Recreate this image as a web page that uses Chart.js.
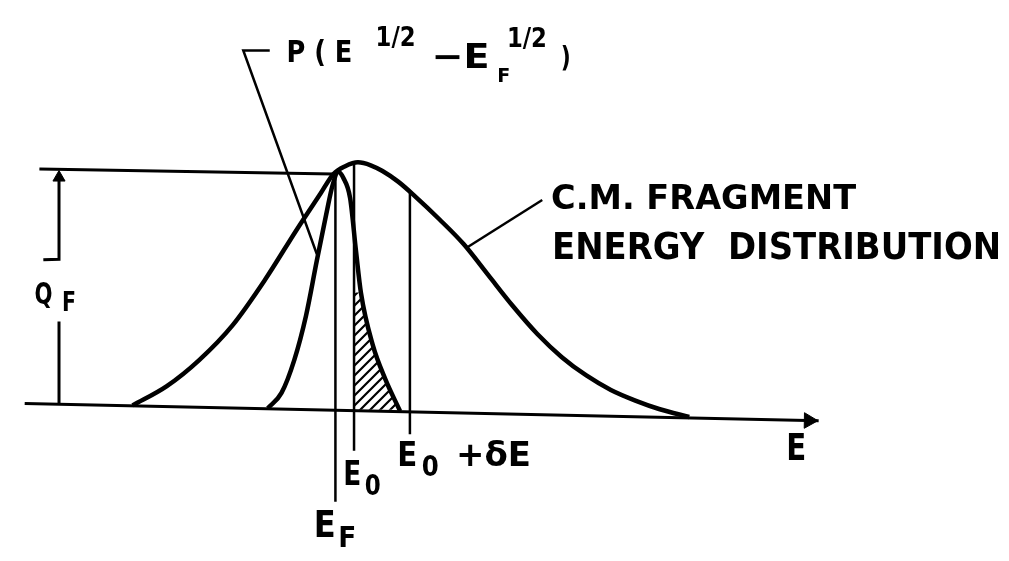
<!DOCTYPE html>
<html>
<head>
    <title>C.M. Fragment Energy Distribution</title>
    <script src="https://cdn.jsdelivr.net/npm/chart.js"></script>
    <style>
        body {
            margin: 0;
            background: #ffffff;
        }
        canvas {
            display: block;
        }
    </style>
</head>
<body>
    <canvas id="fig" width="1009" height="561"></canvas>

    <script>
        // energy axis runs left to right, intensity is 1 at the top of the broad curve
        const broadE = [12.5, 16.0, 19.3, 22.7, 26.0, 29.3, 31.7, 33.0, 34.2, 35.5, 36.8, 38.0, 39.6,
                        41.3, 43.8, 46.3, 48.8, 51.3, 53.8, 56.3, 58.8, 61.3, 63.8, 66.3, 69.3];
        const broadN = [0.0, 0.08, 0.188, 0.332, 0.52, 0.732, 0.88, 0.96, 0.992, 1.008, 0.996, 0.972, 0.928,
                        0.868, 0.772, 0.668, 0.54, 0.412, 0.296, 0.2, 0.124, 0.064, 0.02, -0.016, -0.048];

        // P(E^1/2 - EF^1/2), the narrow peak
        const narrowE = [26.3, 27.7, 29.0, 30.2, 31.3, 32.3, 32.9, 33.5, 34.0, 34.7, 35.3, 35.8, 37.0, 38.3, 39.8];
        const narrowP = [-0.012, 0.052, 0.188, 0.372, 0.6, 0.8, 0.912, 0.968, 0.944, 0.86, 0.64, 0.468, 0.252, 0.108, -0.024];

        // shaded tail above E0
        const hatchE = [35.1, 35.8, 37.0, 38.3, 39.8];
        const hatchP = [0.468, 0.468, 0.252, 0.108, -0.024];

        const EF = 33.2, E0 = 35.1, E0dE = 40.8;

        const axisE = [1.5, 82.5];
        const axisY = [0.008, -0.064];

        const zip = (xs, ys) => xs.map((x, i) => ({ x: x, y: ys[i] }));
        const seg = pts => pts.map(p => ({ x: p[0], y: p[1] }));

        // annotation text, placed in data units
        const notes = [
            { t: 'P ( E', x: 28.2, y: 1.424, s: 30, w: 66 },
            { t: '1/2', x: 37.3, y: 1.492, s: 26, w: 40 },
            { t: '\u2212E', x: 43.0, y: 1.40, s: 34, w: 58 },
            { t: 'F', x: 49.7, y: 1.34, s: 20, w: 13 },
            { t: '1/2', x: 50.7, y: 1.488, s: 26, w: 40 },
            { t: ')', x: 56.2, y: 1.404, s: 28, w: 10 },
            { t: 'C.M. FRAGMENT', x: 55.2, y: 0.816, s: 33, w: 305 },
            { t: 'ENERGY  DISTRIBUTION', x: 55.3, y: 0.608, s: 38, w: 449 },
            { t: 'Q', x: 2.5, y: 0.42, s: 31, w: 18 },
            { t: 'F', x: 5.3, y: 0.392, s: 27, w: 14 },
            { t: 'E', x: 79.2, y: -0.228, s: 37, w: 20 },
            { t: 'E', x: 34.0, y: -0.332, s: 34, w: 18 },
            { t: '0', x: 36.2, y: -0.372, s: 28, w: 16 },
            { t: 'E', x: 39.5, y: -0.252, s: 34, w: 20 },
            { t: '0', x: 42.0, y: -0.292, s: 28, w: 17 },
            { t: '+\u03b4E', x: 45.5, y: -0.252, s: 34, w: 75 },
            { t: 'E', x: 31.0, y: -0.548, s: 37, w: 22 },
            { t: 'F', x: 33.5, y: -0.588, s: 28, w: 18 }
        ];

        const canvas = document.getElementById('fig');
        const ctx = canvas.getContext('2d');

        // diagonal hatch
        const tile = document.createElement('canvas');
        tile.width = 10; tile.height = 10;
        const tc = tile.getContext('2d');
        tc.strokeStyle = '#000';
        tc.lineWidth = 2.2;
        tc.beginPath();
        tc.moveTo(-2, 12); tc.lineTo(12, -2);
        tc.moveTo(-7, 7); tc.lineTo(7, -7);
        tc.moveTo(3, 17); tc.lineTo(17, 3);
        tc.stroke();
        const hatch = ctx.createPattern(tile, 'repeat');

        function line(data, width) {
            return {
                data: data, showLine: true, borderColor: '#000', borderWidth: width,
                pointRadius: 0, fill: false, tension: 0
            };
        }

        const lettering = {
            id: 'lettering',
            afterDatasetsDraw(chart) {
                const c = chart.ctx, sx = chart.scales.x, sy = chart.scales.y;
                c.save();
                c.fillStyle = '#000';
                c.textBaseline = 'alphabetic';
                notes.forEach(n => {
                    c.font = 'bold ' + n.s + 'px "DejaVu Sans"';
                    const m = c.measureText(n.t).width;
                    c.save();
                    c.translate(sx.getPixelForValue(n.x), sy.getPixelForValue(n.y));
                    c.scale(n.w / m, 1);
                    c.fillText(n.t, 0, 0);
                    c.restore();
                });
                c.restore();
            }
        };

        new Chart(ctx, {
            type: 'scatter',
            data: {
                datasets: [
                    Object.assign(line(zip(hatchE, hatchP), 0), {
                        backgroundColor: hatch, fill: { value: -0.018 }
                    }),
                    line(zip(axisE, axisY), 3),
                    {
                        data: [{ x: 81.5, y: -0.063 }], pointStyle: 'triangle', rotation: 91,
                        pointRadius: 9, backgroundColor: '#000', borderColor: '#000', borderWidth: 1
                    },
                    Object.assign(line(zip(broadE, broadN), 4.5), { cubicInterpolationMode: 'monotone' }),
                    Object.assign(line(zip(narrowE, narrowP), 4.5), { cubicInterpolationMode: 'monotone' }),
                    line(seg([[EF, 0.95], [EF, -0.4]]), 2.5),
                    line(seg([[E0, 1.004], [E0, -0.188]]), 2.5),
                    line(seg([[E0dE, 0.885], [E0dE, -0.12]]), 2.5),
                    line(seg([[3.0, 0.98], [33.0, 0.96]]), 3),
                    line(seg([[5.0, 0.95], [5.0, 0.606], [3.4, 0.604]]), 3),
                    line(seg([[5.0, 0.348], [5.0, 0.008]]), 3),
                    {
                        data: [{ x: 5.0, y: 0.945 }], pointStyle: 'triangle', rotation: 0,
                        pointRadius: 7, backgroundColor: '#000', borderColor: '#000', borderWidth: 1
                    },
                    line(seg([[26.5, 1.472], [23.8, 1.472], [31.3, 0.628]]), 2.5),
                    line(seg([[46.5, 0.652], [54.3, 0.852]]), 2.5)
                ]
            },
            options: {
                responsive: false,
                animation: false,
                devicePixelRatio: 1,
                layout: { padding: 0 },
                plugins: {
                    legend: { display: false },
                    tooltip: { enabled: false }
                },
                scales: {
                    x: { type: 'linear', min: 0, max: 100.9, display: false },
                    y: { type: 'linear', min: -0.604, max: 1.64, display: false }
                }
            },
            plugins: [lettering]
        });
    </script>
</body>
</html>
